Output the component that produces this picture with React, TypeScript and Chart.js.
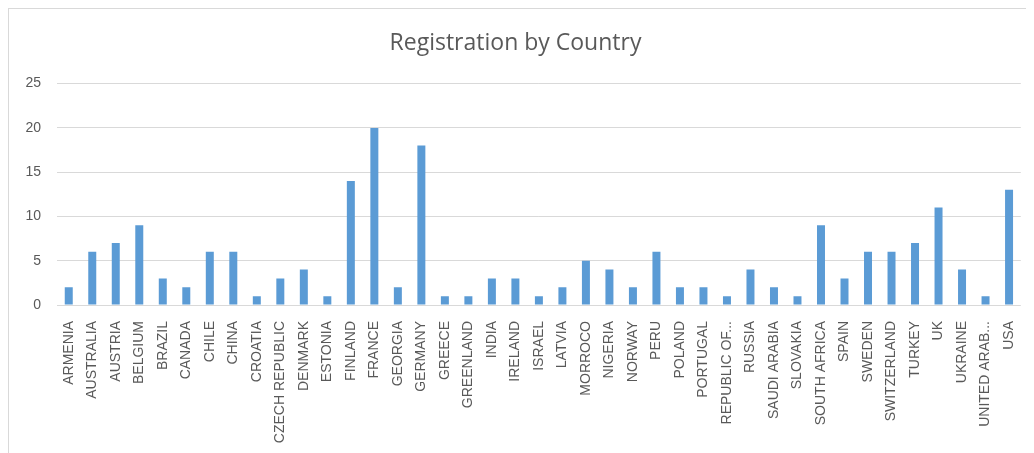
import React, { useEffect, useRef } from "react";
import { Chart, registerables } from "chart.js";

Chart.register(...registerables);

const countries = [
  "ARMENIA", "AUSTRALIA", "AUSTRIA", "BELGIUM", "BRAZIL", "CANADA", "CHILE", "CHINA",
  "CROATIA", "CZECH REPUBLIC", "DENMARK", "ESTONIA", "FINLAND", "FRANCE", "GEORGIA",
  "GERMANY", "GREECE", "GREENLAND", "INDIA", "IRELAND", "ISRAEL", "LATVIA", "MORROCO",
  "NIGERIA", "NORWAY", "PERU", "POLAND", "PORTUGAL", "REPUBLIC OF...", "RUSSIA",
  "SAUDI ARABIA", "SLOVAKIA", "SOUTH AFRICA", "SPAIN", "SWEDEN", "SWITZERLAND",
  "TURKEY", "UK", "UKRAINE", "UNITED ARAB...", "USA",
];

const registrations = [
  2, 6, 7, 9, 3, 2, 6, 6,
  1, 3, 4, 1, 14, 20, 2,
  18, 1, 1, 3, 3, 1, 2, 5,
  4, 2, 6, 2, 2, 1, 4,
  2, 1, 9, 3, 6, 6,
  7, 11, 4, 1, 13,
];

const yTicks = [0, 5, 10, 15, 20, 25];

const chartTitle = "Registration by Country";

export default function App() {
  const canvasRef = useRef<HTMLCanvasElement | null>(null);

  useEffect(() => {
    if (!canvasRef.current) return;
    const chart = new Chart(canvasRef.current, {
      type: "bar",
      data: {
        labels: countries,
        datasets: [
          {
            label: "Registrations",
            data: registrations,
            backgroundColor: "#5B9BD5",
            borderWidth: 0,
            barPercentage: 0.34,
            categoryPercentage: 1,
          },
        ],
      },
      options: {
        animation: false,
        responsive: false,
        maintainAspectRatio: false,
        layout: { padding: { top: 10, left: 0, right: 12, bottom: 0 } },
        plugins: {
          legend: { display: false },
          tooltip: { enabled: false },
          title: {
            display: true,
            text: chartTitle,
            color: "#595959",
            font: { family: "Open Sans", size: 23, weight: "normal" },
            padding: { top: 11, bottom: 26 },
          },
        },
        scales: {
          x: {
            grid: { display: false },
            border: { display: false },
            ticks: {
              color: "#595959",
              font: { family: "Liberation Sans", size: 14 },
              minRotation: 90,
              maxRotation: 90,
              autoSkip: false,
              padding: 8,
            },
            afterFit: (scale: any) => {
              scale.height = 148;
            },
          },
          y: {
            min: 0,
            max: 25,
            afterBuildTicks: (scale: any) => {
              scale.ticks = yTicks.map((v) => ({ value: v }));
            },
            grid: { color: "#D9D9D9", drawTicks: false, lineWidth: 1 },
            border: { display: false },
            ticks: {
              color: "#595959",
              font: { family: "Liberation Sans", size: 14 },
              padding: 16,
            },
            afterFit: (scale: any) => {
              scale.width = 48;
            },
          },
        },
      },
    });
    return () => chart.destroy();
  }, []);

  return (
    <div
      style={{
        width: 1026,
        height: 445,
        borderLeft: "1px solid #D9D9D9",
        borderTop: "1px solid #D9D9D9",
        boxSizing: "border-box",
        background: "#fff",
        overflow: "hidden",
      }}
    >
      <canvas ref={canvasRef} width={1025} height={444} style={{ display: "block" }} />
    </div>
  );
}
